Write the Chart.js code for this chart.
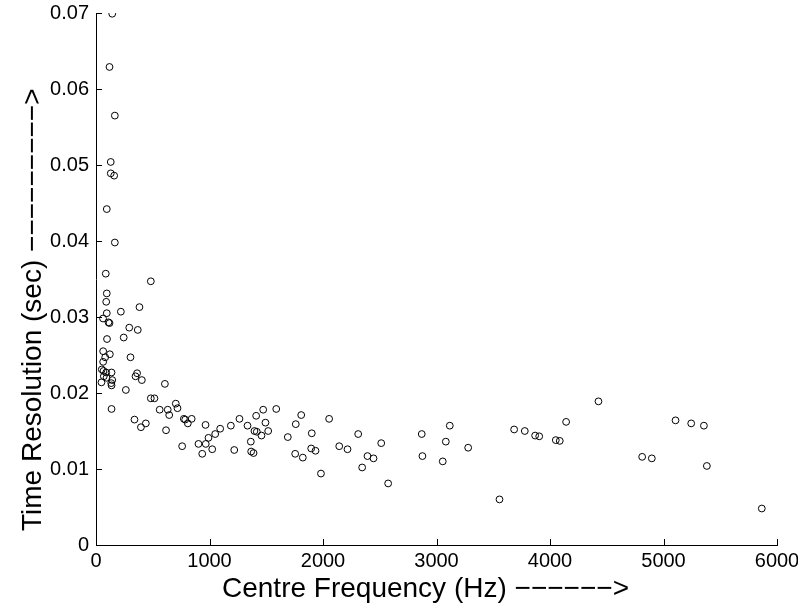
<!DOCTYPE html>
<html>
<head>
<meta charset="utf-8">
<script src="https://cdn.jsdelivr.net/npm/chart.js@4.4.1/dist/chart.umd.min.js"></script>
<style>
  html, body { margin: 0; padding: 0; background: #fff; }
  #wrap { width: 798px; height: 612px; position: relative; }
</style>
</head>
<body>
<div id="wrap"><canvas id="c"></canvas></div>
<script>
// Centre frequency of each analysis band (Hz)
const freqHz = [
  143, 119, 166, 130, 130, 160, 95, 166, 86, 483,
  95, 90, 95, 62, 110, 119, 219, 383, 293, 368,
  97, 244, 63, 122, 81, 304, 63, 51, 66, 90,
  137, 69, 93, 143, 134, 137, 48, 362, 348, 404,
  607, 263, 137, 483, 515, 339, 439, 396, 561, 632,
  645, 617, 703, 718, 774, 786, 843, 809, 759, 965,
  903, 936, 967, 991, 1024, 1050, 1094, 1188, 1218, 1264,
  1335, 1364, 1367, 1388, 1411, 1396, 1417, 1458, 1473, 1493,
  1517, 1588, 1690, 1760, 1755, 1808, 1901, 1822, 1896, 1934,
  1982, 2054, 2143, 2216, 2310, 2345, 2392, 2445, 2513, 2574,
  2870, 2876, 3117, 3082, 3055, 3279, 3555, 3684, 3778, 3869,
  3905, 4051, 4086, 4142, 4427, 4812, 4897, 5106, 5244, 5356,
  5382, 5866
];
// Time resolution measured for each band (sec)
const timeRes = [
  0.0699, 0.0629, 0.0565, 0.0504, 0.0489, 0.0486, 0.0442, 0.0398, 0.0357, 0.0347,
  0.0331, 0.0320, 0.0305, 0.0298, 0.0293, 0.0292, 0.0307, 0.0313, 0.0286, 0.0283,
  0.0271, 0.0273, 0.0255, 0.0251, 0.0247, 0.0247, 0.0241, 0.0231, 0.0229, 0.0227,
  0.0227, 0.0222, 0.0220, 0.0217, 0.0213, 0.0210, 0.0214, 0.0226, 0.0222, 0.0217,
  0.0212, 0.0204, 0.0179, 0.0193, 0.0193, 0.0165, 0.0160, 0.0155, 0.0178, 0.0178,
  0.0171, 0.0151, 0.0186, 0.0180, 0.0166, 0.0165, 0.0166, 0.0160, 0.0130, 0.0158,
  0.0133, 0.0120, 0.0133, 0.0141, 0.0126, 0.0146, 0.0153, 0.0157, 0.0125, 0.0166,
  0.0157, 0.0136, 0.0123, 0.0121, 0.0170, 0.0150, 0.0149, 0.0144, 0.0178, 0.0161,
  0.0150, 0.0179, 0.0142, 0.0159, 0.0120, 0.0171, 0.0147, 0.0115, 0.0127, 0.0124,
  0.0094, 0.0166, 0.0130, 0.0126, 0.0146, 0.0102, 0.0117, 0.0114, 0.0134, 0.0081,
  0.0146, 0.0117, 0.0157, 0.0136, 0.0110, 0.0128, 0.0060, 0.0152, 0.0150, 0.0144,
  0.0143, 0.0138, 0.0137, 0.0162, 0.0189, 0.0116, 0.0114, 0.0164, 0.0160, 0.0157,
  0.0104, 0.0048
];
const xTickValues = [0, 1000, 2000, 3000, 4000, 5000, 6000];
const yTickLabels = ['0', '0.01', '0.02', '0.03', '0.04', '0.05', '0.06', '0.07'];
const xTitle = 'Centre Frequency (Hz) \u2212\u2212\u2212\u2212\u2212\u2212>';
const yTitle = 'Time Resolution (sec) \u2212\u2212\u2212\u2212\u2212\u2212\u2212\u2212\u2212>';

const points = freqHz.map((f, i) => ({ x: f, y: timeRes[i] }));

const FONT = '"Liberation Sans", Arial, Helvetica, sans-serif';

// Short inward tick marks on the left and bottom axes plus the axis titles
const axisDecor = {
  id: 'axisDecor',
  afterDraw(chart) {
    const { ctx, chartArea: a, scales } = chart;
    const len = 6;
    ctx.save();
    ctx.strokeStyle = '#000';
    ctx.lineWidth = 1;
    ctx.beginPath();
    scales.x.ticks.forEach(t => {
      const px = Math.round(scales.x.getPixelForValue(t.value)) + 0.5;
      ctx.moveTo(px, a.bottom);
      ctx.lineTo(px, a.bottom - len);
    });
    scales.y.ticks.forEach(t => {
      const py = Math.round(scales.y.getPixelForValue(t.value)) + 0.5;
      ctx.moveTo(a.left, py);
      ctx.lineTo(a.left + len, py);
    });
    ctx.stroke();

    ctx.fillStyle = '#000';
    ctx.font = '28px ' + FONT;
    ctx.textBaseline = 'alphabetic';
    ctx.textAlign = 'left';
    ctx.fillText(xTitle, 222, 597);

    ctx.translate(41, 531);
    ctx.rotate(-Math.PI / 2);
    ctx.fillText(yTitle, 0, 0);
    ctx.restore();
  }
};

new Chart(document.getElementById('c'), {
  type: 'scatter',
  data: {
    datasets: [{
      data: points,
      showLine: false,
      pointStyle: 'circle',
      pointRadius: 3.4,
      pointHoverRadius: 3.4,
      pointBorderWidth: 1,
      pointBorderColor: '#000',
      pointBackgroundColor: 'rgba(0,0,0,0)'
    }]
  },
  options: {
    responsive: true,
    maintainAspectRatio: false,
    animation: false,
    events: [],
    layout: { padding: { top: 13, right: 21, left: 0, bottom: 0 } },
    plugins: { legend: { display: false }, tooltip: { enabled: false } },
    scales: {
      x: {
        type: 'linear',
        min: 0,
        max: 6000,
        afterFit(s) { s.height = 67; s.paddingLeft = 0; s.paddingRight = 0; },
        afterBuildTicks(s) { s.ticks = xTickValues.map(v => ({ value: v })); },
        ticks: {
          color: '#000',
          padding: 4,
          maxRotation: 0,
          font: { family: FONT, size: 20 },
          callback: v => String(v)
        },
        grid: { display: true, drawOnChartArea: false, drawTicks: false },
        border: { display: true, color: '#000', width: 1 }
      },
      y: {
        type: 'linear',
        min: 0,
        max: 0.07,
        afterFit(s) { s.width = 96; s.paddingTop = 0; s.paddingBottom = 0; },
        afterBuildTicks(s) { s.ticks = yTickLabels.map(l => ({ value: parseFloat(l) })); },
        ticks: {
          color: '#000',
          padding: 7,
          font: { family: FONT, size: 20 },
          callback: (v, i) => yTickLabels[i]
        },
        grid: { display: true, drawOnChartArea: false, drawTicks: false },
        border: { display: true, color: '#000', width: 1 }
      }
    }
  },
  plugins: [axisDecor]
});
</script>
</body>
</html>
